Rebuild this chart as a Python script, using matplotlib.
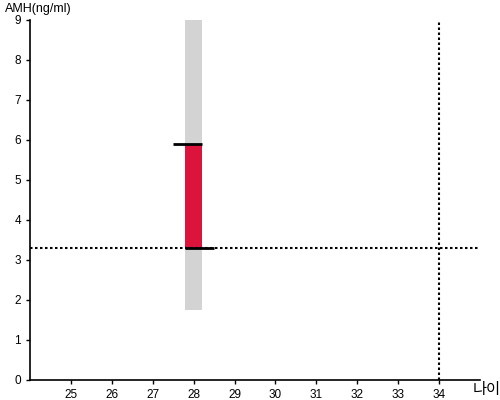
import matplotlib
matplotlib.use("Agg")
import matplotlib.pyplot as plt

plt.rcParams['font.family'] = ['Liberation Sans', 'Noto Sans CJK KR', 'DejaVu Sans']

age = 28
range_low, range_high = 1.75, 9.0
amh_low, amh_high = 3.3, 5.9
ref_age = 34
ref_amh = 3.3
xticks = list(range(25, 35))
yticks = list(range(0, 10))

fig = plt.figure(figsize=(5, 4), dpi=100)
ax = fig.add_axes([0.06, 0.05, 0.90, 0.90])

bw = 0.4
ax.bar([age], [range_high - range_low], bottom=[range_low], width=bw, color='#d3d3d3', zorder=1)
ax.bar([age], [amh_high - amh_low], bottom=[amh_low], width=bw, color='#dc143c', zorder=2)
ax.plot([age - 0.5, age + bw / 2], [amh_high, amh_high], color='black', lw=2, zorder=4,
        solid_capstyle='butt')
ax.plot([age - bw / 2, age + 0.5], [amh_low, amh_low], color='black', lw=2, zorder=4,
        solid_capstyle='butt')
ax.axhline(ref_amh, color='black', lw=1.5, ls=(0, (1.2, 1.2)), zorder=3)
ax.axvline(ref_age, color='black', lw=1.5, ls=(0, (1.2, 1.2)), zorder=3)

ax.set_xlim(24, 35)
ax.set_ylim(0, 9)
ax.set_xticks(xticks)
ax.set_yticks(yticks)
ax.tick_params(labelsize=8.5, length=3, width=1, colors='black')
for s in ['top', 'right']:
    ax.spines[s].set_visible(False)
for s in ['left', 'bottom']:
    ax.spines[s].set_linewidth(1.2)

fig.text(0.01, 0.978, 'AMH(ng/ml)', fontsize=9, ha='left', va='center')
fig.text(0.974, 0.025, '나이', fontsize=11, ha='center', va='center')

fig.savefig('out.png', dpi=100)
